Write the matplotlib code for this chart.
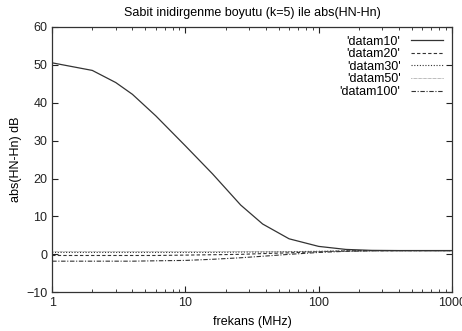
import numpy as np
import matplotlib
matplotlib.use("Agg")
from matplotlib import pyplot as plt

plt.rcParams['font.family'] = ['Liberation Sans', 'DejaVu Sans']

f = [1, 2, 3, 4, 6, 10, 16, 26, 38, 60, 100, 160, 250, 400, 1000]
datam10 = [50.5, 48.5, 45.3, 42.2, 36.5, 28.6, 21.2, 13.0, 8.0, 4.1, 2.1, 1.3, 1.05, 1.0, 1.0]
datam20 = [-0.3, -0.3, -0.3, -0.3, -0.3, -0.2, -0.1, 0.0, 0.2, 0.4, 0.7, 0.9, 1.0, 1.0, 1.0]
datam30 = [0.5, 0.5, 0.5, 0.5, 0.5, 0.5, 0.5, 0.6, 0.6, 0.7, 0.8, 0.9, 1.0, 1.0, 1.0]
datam50 = [1.0, 1.0, 1.0, 1.0, 1.0, 1.0, 1.0, 1.0, 1.0, 1.0, 1.0, 1.0, 1.0, 1.0, 1.0]
datam100 = [-1.8, -1.8, -1.8, -1.8, -1.7, -1.6, -1.3, -0.9, -0.5, 0.0, 0.5, 0.8, 0.95, 1.0, 1.0]

fig = plt.figure(figsize=(4.62, 3.31), dpi=100)
ax = fig.add_axes([0.113, 0.117, 0.865, 0.802])
lc = '#333333'
ax.plot(f, datam10, color=lc, lw=0.9, ls='-', label="'datam10'")
ax.plot(f, datam20, color=lc, lw=0.8, ls=(0, (3, 2)), label="'datam20'")
ax.plot(f, datam30, color=lc, lw=0.8, ls=(0, (1, 1.5)), label="'datam30'")
ax.plot(f, datam50, color='#777777', lw=0.7, ls=(0, (0.5, 0.8)), label="'datam50'")
ax.plot(f, datam100, color=lc, lw=0.8, ls=(0, (4, 1.5, 1, 1.5)), label="'datam100'")

ax.set_xscale('log')
ax.set_xlim(1, 1000)
ax.set_ylim(-10, 60)
ax.set_yticks(range(-10, 61, 10))
ax.set_xticks([1, 10, 100, 1000])
ax.set_xticklabels(['1', '10', '100', '1000'])
ax.tick_params(which='both', direction='in', top=True, right=True, labelsize=9, colors='#222222')
ax.tick_params(which='major', length=4)
ax.tick_params(which='minor', length=2)
for s in ax.spines.values():
    s.set_color('#333333')
    s.set_linewidth(0.9)

ax.set_xlabel("frekans (MHz)", fontsize=9, labelpad=5)
ax.set_ylabel("abs(HN-Hn) dB", fontsize=9, labelpad=3)
ax.set_title("Sabit inidirgenme boyutu (k=5) ile abs(HN-Hn)", fontsize=9, pad=8)

leg = ax.legend(loc='upper right', frameon=False, markerfirst=False, fontsize=9,
                handlelength=2.6, labelspacing=0.05, borderaxespad=0.3, handletextpad=0.8)
for t in leg.get_texts():
    t.set_ha('right')

fig.savefig("out.png", dpi=100)
